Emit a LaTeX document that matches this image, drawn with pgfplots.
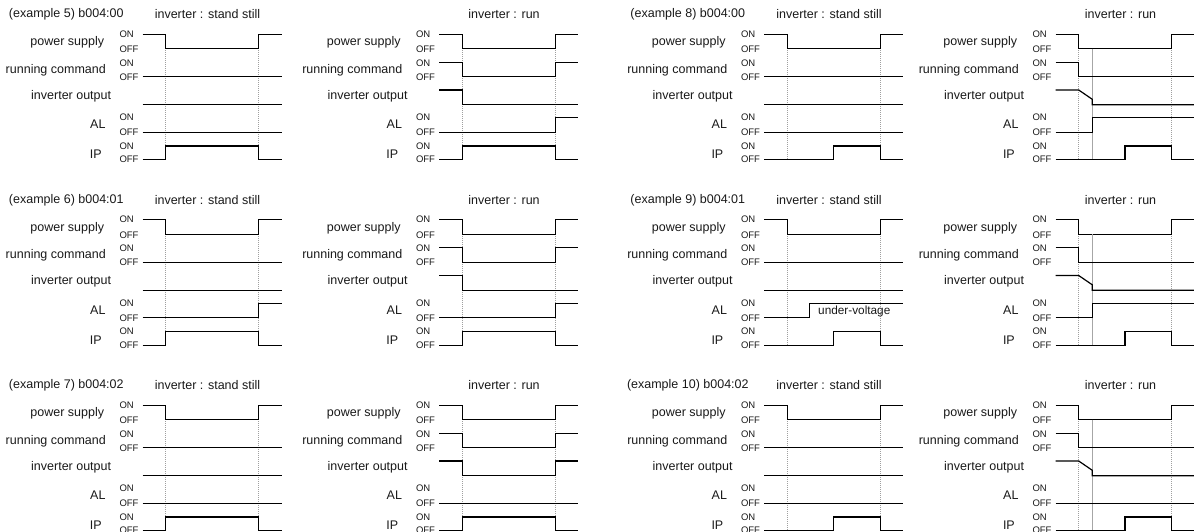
\documentclass[border=0pt]{standalone}
\usepackage{fontspec}
\setmainfont{Liberation Sans}
\usepackage{pgfplots}
\pgfplotsset{compat=1.18}
\tikzset{
  sig/.style={black, line width=1.2bp, line join=miter},
  guide/.style={gray!75, line width=0.7bp, dash pattern=on 1bp off 1bp},
  guideb/.style={gray!70, line width=0.7bp},
  lab/.style={font=\fontsize{12.5bp}{14bp}\selectfont, inner sep=0pt, text=black!90},
  ttl/.style={font=\fontsize{12.5bp}{14bp}\selectfont, inner sep=0pt, anchor=center, text=black!90},
  onoff/.style={font=\fontsize{9.5bp}{11bp}\selectfont, inner sep=0pt, anchor=west, text=black!90},
}
% #1 = dx, #2 = dy, #3 = coordinates
\newcommand{\Sig}[3]{\addplot[sig,xshift=#1bp,yshift=-#2bp] coordinates {#3};}
\newcommand{\Gd}[4]{\addplot[#4,xshift=#1bp,yshift=-#2bp] coordinates {#3};}
\newcommand{\Txt}[5]{\node[#4,xshift=#1bp,yshift=-#2bp] at (axis cs:#3) {#5};}
\newcommand{\Base}[4]{%
  \Txt{#1}{#2}{66.3,14.5}{ttl}{#3}
  \Txt{#1}{#2}{207.5,14.5}{ttl}{#4}
  \Txt{#1}{#2}{104.3,42.7}{lab,anchor=east}{power supply}
  \Txt{#1}{#2}{106,70}{lab,anchor=east}{running command}
  \Txt{#1}{#2}{111.3,96}{lab,anchor=east}{inverter output}
  \Txt{#1}{#2}{105.7,124.5}{lab,anchor=east}{AL}
  \Txt{#1}{#2}{102,154.3}{lab,anchor=east}{IP}
  \Txt{#1}{#2}{119.3,34.2}{onoff}{ON}
  \Txt{#1}{#2}{119.3,49.3}{onoff}{OFF}
  \Txt{#1}{#2}{119.3,63}{onoff}{ON}
  \Txt{#1}{#2}{119.3,77}{onoff}{OFF}
  \Txt{#1}{#2}{119.3,117.5}{onoff}{ON}
  \Txt{#1}{#2}{119.3,132.5}{onoff}{OFF}
  \Txt{#1}{#2}{119.3,145.8}{onoff}{ON}
  \Txt{#1}{#2}{119.3,159.3}{onoff}{OFF}
  \Gd{#1}{#2}{(165.7,34.3) (165.7,159.7)}{guide}
  \Gd{#1}{#2}{(258.7,34.3) (258.7,159.7)}{guide}
  \Sig{#1}{#2}{(142.7,34.3) (165.7,34.3) (165.7,48.7) (258.7,48.7) (258.7,34.3) (281.7,34.3)}
}
% stand still, IP a..c, AL off  (examples 5, 7)
\newcommand{\PA}[3]{\Base{#1}{#2}{#3}{inverter : stand still}
  \Sig{#1}{#2}{(142.7,76.7) (281.7,76.7)}
  \Sig{#1}{#2}{(142.7,104.7) (281.7,104.7)}
  \Sig{#1}{#2}{(142.7,132.3) (281.7,132.3)}
  \Sig{#1}{#2}{(142.7,159.7) (165.7,159.7) (165.7,146) (258.7,146) (258.7,159.7) (281.7,159.7)}
}
% stand still, AL on at c (example 6)
\newcommand{\PB}[3]{\Base{#1}{#2}{#3}{inverter : stand still}
  \Sig{#1}{#2}{(142.7,76.7) (281.7,76.7)}
  \Sig{#1}{#2}{(142.7,104.7) (281.7,104.7)}
  \Sig{#1}{#2}{(142.7,132.3) (258.7,132.3) (258.7,117.7) (281.7,117.7)}
  \Sig{#1}{#2}{(142.7,159.7) (165.7,159.7) (165.7,146) (258.7,146) (258.7,159.7) (281.7,159.7)}
}
% run (examples 5, 6)
\newcommand{\PC}[2]{\Base{#1}{#2}{}{inverter : run}
  \Sig{#1}{#2}{(142.7,62.3) (165.7,62.3) (165.7,76.7) (258.7,76.7) (258.7,62.3) (281.7,62.3)}
  \Sig{#1}{#2}{(142.7,90) (165.7,90) (165.7,104.7) (281.7,104.7)}
  \Sig{#1}{#2}{(142.7,132.3) (258.7,132.3) (258.7,117.7) (281.7,117.7)}
  \Sig{#1}{#2}{(142.7,159.7) (165.7,159.7) (165.7,146) (258.7,146) (258.7,159.7) (281.7,159.7)}
}
% run (example 7)
\newcommand{\PD}[2]{\Base{#1}{#2}{}{inverter : run}
  \Sig{#1}{#2}{(142.7,62.3) (165.7,62.3) (165.7,76.7) (258.7,76.7) (258.7,62.3) (281.7,62.3)}
  \Sig{#1}{#2}{(142.7,90) (165.7,90) (165.7,104.7) (258.7,104.7) (258.7,90) (281.7,90)}
  \Sig{#1}{#2}{(142.7,132.3) (281.7,132.3)}
  \Sig{#1}{#2}{(142.7,159.7) (165.7,159.7) (165.7,146) (258.7,146) (258.7,159.7) (281.7,159.7)}
}
% stand still, IP from 212 (examples 8, 10)
\newcommand{\PE}[3]{\Base{#1}{#2}{#3}{inverter : stand still}
  \Sig{#1}{#2}{(142.7,76.7) (281.7,76.7)}
  \Sig{#1}{#2}{(142.7,104.7) (281.7,104.7)}
  \Sig{#1}{#2}{(142.7,132.3) (281.7,132.3)}
  \Sig{#1}{#2}{(142.7,159.7) (212,159.7) (212,146) (258.7,146) (258.7,159.7) (281.7,159.7)}
}
% stand still with under-voltage (example 9)
\newcommand{\PF}[3]{\Base{#1}{#2}{#3}{inverter : stand still}
  \Sig{#1}{#2}{(142.7,76.7) (281.7,76.7)}
  \Sig{#1}{#2}{(142.7,104.7) (281.7,104.7)}
  \Sig{#1}{#2}{(142.7,132.3) (187.8,132.3) (187.8,117.7) (281.7,117.7)}
  \Sig{#1}{#2}{(142.7,159.7) (212,159.7) (212,146) (258.7,146) (258.7,159.7) (281.7,159.7)}
  \Txt{#1}{#2}{196.5,126}{font=\fontsize{11.8bp}{13bp}\selectfont, inner sep=0pt, anchor=west, text=black!90}{under-voltage}
}
% run, AL on at b (examples 8, 9)
\newcommand{\PG}[2]{\Base{#1}{#2}{}{inverter : run}
  \Gd{#1}{#2}{(179.3,48.7) (179.3,159.7)}{guideb}
  \Sig{#1}{#2}{(142.7,62.3) (165.7,62.3) (165.7,76.7) (281.7,76.7)}
  \Sig{#1}{#2}{(142.7,90) (165.7,90) (179.3,99.3) (179.3,104.7) (281.7,104.7)}
  \Sig{#1}{#2}{(142.7,132.3) (179.3,132.3) (179.3,117.7) (281.7,117.7)}
  \Sig{#1}{#2}{(142.7,159.7) (212,159.7) (212,146) (258.7,146) (258.7,159.7) (281.7,159.7)}
}
% run, AL off (example 10)
\newcommand{\PH}[2]{\Base{#1}{#2}{}{inverter : run}
  \Gd{#1}{#2}{(179.3,48.7) (179.3,159.7)}{guideb}
  \Sig{#1}{#2}{(142.7,62.3) (165.7,62.3) (165.7,76.7) (281.7,76.7)}
  \Sig{#1}{#2}{(142.7,90) (165.7,90) (179.3,99.3) (179.3,104.7) (281.7,104.7)}
  \Sig{#1}{#2}{(142.7,132.3) (281.7,132.3)}
  \Sig{#1}{#2}{(142.7,159.7) (212,159.7) (212,146) (258.7,146) (258.7,159.7) (281.7,159.7)}
}
\begin{document}
\begin{tikzpicture}
\begin{axis}[
  at={(0,0)}, anchor=north west,
  width=1194bp, height=532bp, scale only axis,
  xmin=0, xmax=1194, ymin=0, ymax=532, y dir=reverse,
  axis lines=none, clip=false,
]
\PA{0}{0}{(example 5) b004:00}
\PC{296.5}{0}
\PE{621.5}{0}{(example 8) b004:00}
\PG{913}{0}
\PB{0}{185.5}{(example 6) b004:01}
\PC{296.5}{185.5}
\PF{621.5}{185.5}{(example 9) b004:01}
\PG{913}{185.5}
\PA{0}{371}{(example 7) b004:02}
\PD{296.5}{371}
\PE{621.5}{371}{(example 10) b004:02}
\PH{913}{371}
\end{axis}
\pgfresetboundingbox
\path[use as bounding box] (0,0) rectangle (1194bp,-532bp);
\end{tikzpicture}
\end{document}
